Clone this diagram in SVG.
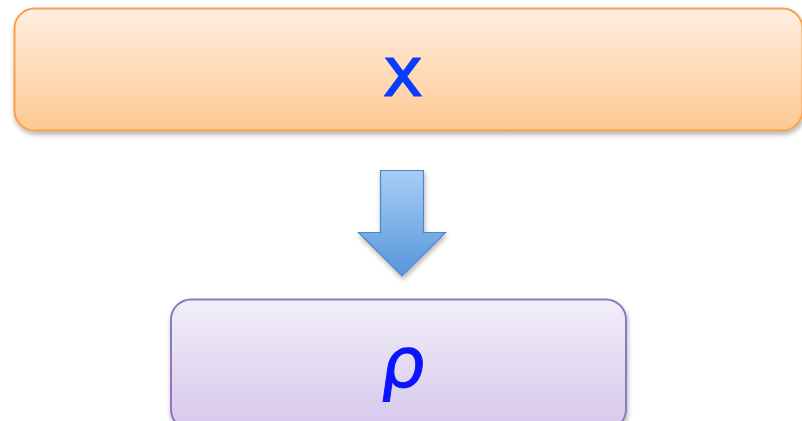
<svg xmlns="http://www.w3.org/2000/svg" width="802" height="421" viewBox="0 0 802 421">
  <defs>
    <linearGradient id="gOrange" x1="0" y1="0" x2="0" y2="1">
      <stop offset="0" stop-color="#FFEEE1"/>
      <stop offset="1" stop-color="#FFC892"/>
    </linearGradient>
    <linearGradient id="gPurple" x1="0" y1="0" x2="0" y2="1">
      <stop offset="0" stop-color="#F2EEF9"/>
      <stop offset="1" stop-color="#D6C7EB"/>
    </linearGradient>
    <linearGradient id="gBlue" x1="0" y1="0" x2="0" y2="1">
      <stop offset="0" stop-color="#A9CCF7"/>
      <stop offset="1" stop-color="#5796DB"/>
    </linearGradient>
    <filter id="shadow" x="-10%" y="-20%" width="120%" height="150%">
      <feDropShadow dx="1" dy="3" stdDeviation="2.5" flood-color="#000" flood-opacity="0.3"/>
    </filter>
    <style>
      .label { font-family: "DejaVu Sans", "Liberation Sans", sans-serif; font-size: 70px; text-anchor: middle; stroke-linejoin: round; stroke-linecap: round; }
      .x { fill: #0A3CFF; stroke: #0A3CFF; stroke-width: 1; }
      .rho { fill: #0A14FF; stroke: #0A14FF; stroke-width: 1; }
    </style>
  </defs>
  <rect width="802" height="421" fill="#FFFFFF"/>
  <g id="node-x" filter="url(#shadow)">
    <rect x="14.5" y="8.5" width="788" height="122" rx="20" ry="20" fill="url(#gOrange)" stroke="#F9A04B" stroke-width="2"/>
  </g>
  <g id="node-x-label">
    <text class="label x" x="403" y="96">x</text>
  </g>
  <g id="connectors">
    <path d="M380.5,170.5 H423.5 V232.5 H445.5 L402,276 L358.5,232.5 H380.5 Z" fill="url(#gBlue)" stroke="#4E88C8" stroke-width="1.2" filter="url(#shadow)"/>
  </g>
  <g id="node-rho" filter="url(#shadow)">
    <rect x="171" y="299.5" width="455" height="130" rx="20" ry="20" fill="url(#gPurple)" stroke="#8F78BC" stroke-width="2"/>
  </g>
  <g id="node-rho-label">
    <text class="label rho" x="401" y="387" transform="translate(401 387) skewX(-8) translate(-401 -387)">ρ</text>
  </g>
</svg>
